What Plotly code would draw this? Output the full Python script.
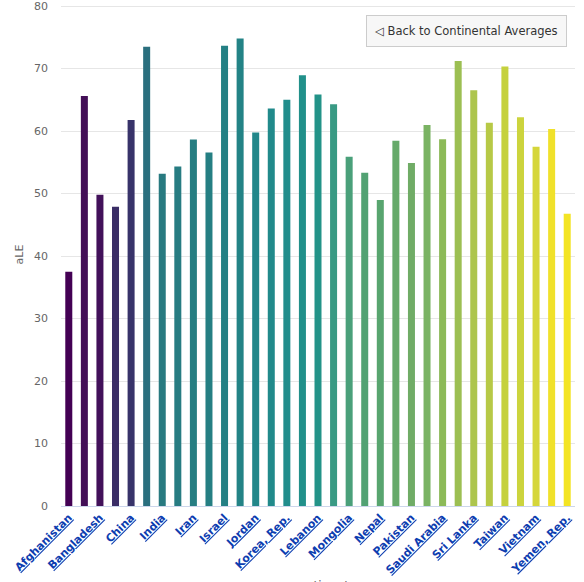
import plotly.graph_objects as go

countries = ['Afghanistan', 'Bahrain', 'Bangladesh', 'Cambodia', 'China',
             'Hong Kong, China', 'India', 'Indonesia', 'Iran', 'Iraq', 'Israel',
             'Japan', 'Jordan', 'Korea, Dem. Rep.', 'Korea, Rep.', 'Kuwait',
             'Lebanon', 'Malaysia', 'Mongolia', 'Myanmar', 'Nepal', 'Oman',
             'Pakistan', 'Philippines', 'Saudi Arabia', 'Singapore', 'Sri Lanka',
             'Syria', 'Taiwan', 'Thailand', 'Vietnam', 'West Bank and Gaza',
             'Yemen, Rep.']
ale = [37.48, 65.61, 49.83, 47.90, 61.79, 73.49, 53.17, 54.34, 58.64, 56.58,
       73.65, 74.83, 59.79, 63.61, 65.00, 68.92, 65.87, 64.28, 55.89, 53.32,
       48.99, 58.44, 54.88, 60.97, 58.68, 71.22, 66.53, 61.35, 70.34, 62.20,
       57.48, 60.33, 46.78]
shown_ticks = countries[::2]
y_ticks = [0, 10, 20, 30, 40, 50, 60, 70, 80]

bar_colors = ['#440154', '#430f57', '#42115a', '#3a2d66', '#38336a', '#2a6f7e',
              '#287a80', '#277c82', '#267e82', '#257f83', '#248084', '#238386',
              '#22878a', '#218a8b', '#218d8c', '#21908a', '#239388', '#399a84',
              '#4aa07a', '#52a273', '#58a56f', '#66aa6a', '#70ac66', '#7ab363',
              '#8cba58', '#9cbf52', '#adc54d', '#b7c946', '#c5d13d', '#ccd43d',
              '#d5d63a', '#f0e12a', '#f3e424']

fig = go.Figure(go.Bar(x=countries, y=ale, marker=dict(color=bar_colors, line=dict(width=0)),
                       width=0.45, name='aLE'))

link_font = "<b><span style='text-decoration:underline'>%s</span></b>"
fig.update_layout(
    width=584, height=582,
    margin=dict(l=61, r=9, t=3, b=76, autoexpand=False),
    plot_bgcolor='white', paper_bgcolor='white',
    font=dict(family='DejaVu Sans', size=11, color='#666666'),
    showlegend=False,
    xaxis=dict(
        tickmode='array', tickvals=shown_ticks,
        ticktext=[link_font % c for c in shown_ticks],
        tickangle=-45, tickfont=dict(color='#0d3db0', size=11),
        showline=True, linecolor='#ccd6eb', linewidth=1,
        showgrid=False, ticks='', range=[-0.5, len(countries) - 0.5],
        automargin=False,
    ),
    yaxis=dict(
        range=[0, 80.5], tickmode='array', tickvals=y_ticks,
        showgrid=True, gridcolor='#e6e6e6', ticklabeloverflow='allow',
        zeroline=False, ticks='', ticklabelstandoff=12, automargin=False,
        title=dict(text='aLE', font=dict(size=11, color='#666666'), standoff=8),
    ),
    annotations=[
        dict(text='continent', xref='paper', yref='paper', x=0.504, y=-0.142,
             xanchor='center', yanchor='top', showarrow=False,
             font=dict(size=12, color='#666666')),
        dict(text='\u25c1 Back to Continental Averages', xref='paper', yref='paper',
             x=0.788, y=0.944, xanchor='center', yanchor='middle', showarrow=False,
             bgcolor='#f7f7f7', bordercolor='#cccccc', borderwidth=1, borderpad=8,
             font=dict(size=11.5, color='#333333')),
    ],
)

fig.write_html("out.html", config={'displayModeBar': False})

# drop the default page margin so the figure sits at the window's corner
with open("out.html", encoding="utf-8") as f:
    page = f.read()
page = page.replace("<body>", "<body style=\"margin:0\">", 1)
with open("out.html", "w", encoding="utf-8") as f:
    f.write(page)
